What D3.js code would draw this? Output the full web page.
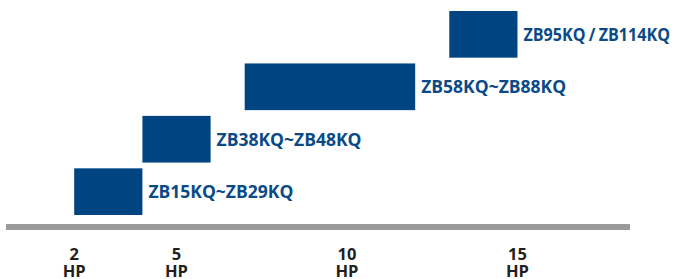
<!DOCTYPE html>
<html>
<head>
<meta charset="utf-8">
<script src="https://cdn.jsdelivr.net/npm/d3@7"></script>
<style>
    body { margin: 0; background: #fff; }
    svg { display: block; }
</style>
</head>
<body>
<svg id="chart"></svg>
<script>
// series, top row first
var models = ["ZB95KQ / ZB114KQ", "ZB58KQ~ZB88KQ", "ZB38KQ~ZB48KQ", "ZB15KQ~ZB29KQ"];
var hpStart = [13, 7, 4, 2];
var hpEnd = [15, 12, 6, 4];
var tickValues = [2, 5, 10, 15];
var tickUnit = "HP";

var width = 673, height = 279;
var barColor = "#004581";
var labelColor = "#0b4a86";

var svg = d3.select("#chart")
    .attr("width", width)
    .attr("height", height);

var x = d3.scaleLinear()
    .domain([0, 18.3])
    .range([6, 630]);

var y = d3.scaleBand()
    .domain(models)
    .range([11, 215])
    .paddingInner(0.11);

var rows = models.map(function(m, i) {
    return { model: m, start: hpStart[i], end: hpEnd[i] };
});

// bars
svg.selectAll("rect.bar")
    .data(rows)
    .enter()
    .append("rect")
    .attr("class", "bar")
    .attr("x", function(d) { return x(d.start); })
    .attr("y", function(d) { return y(d.model); })
    .attr("width", function(d) { return x(d.end) - x(d.start); })
    .attr("height", y.bandwidth())
    .attr("fill", barColor);

// labels
svg.selectAll("text.label")
    .data(rows)
    .enter()
    .append("text")
    .attr("class", "label")
    .attr("x", function(d) { return x(d.end) + 6; })
    .attr("y", function(d) { return y(d.model) + y.bandwidth() / 2; })
    .attr("dy", "0.36em")
    .style("font-family", "'Open Sans', sans-serif")
    .style("font-weight", "bold")
    .style("font-size", "17.5px")
    .style("word-spacing", "-1px")
    .style("fill", labelColor)
    .text(function(d) { return d.model; })
    .each(function() {
        // squeeze a label that would run off the right edge
        var room = width - 3 - (+this.getAttribute("x"));
        if (this.getComputedTextLength() > room) {
            d3.select(this)
                .attr("textLength", room)
                .attr("lengthAdjust", "spacingAndGlyphs");
        }
    });

// axis baseline
svg.append("line")
    .attr("x1", x.range()[0])
    .attr("x2", x.range()[1])
    .attr("y1", 227)
    .attr("y2", 227)
    .style("stroke", "#999a9c")
    .style("stroke-width", 6);

// tick labels: number over unit
var ticks = svg.selectAll("g.tick")
    .data(tickValues)
    .enter()
    .append("g")
    .attr("class", "tick")
    .attr("transform", function(d) { return "translate(" + x(d) + ",0)"; })
    .style("font-family", "'Open Sans', sans-serif")
    .style("font-weight", "bold")
    .style("font-size", "16.5px")
    .style("fill", "#231f20")
    .attr("text-anchor", "middle");

ticks.append("text")
    .attr("y", 260)
    .text(function(d) { return d; });

ticks.append("text")
    .attr("y", 277)
    .text(tickUnit);
</script>
</body>
</html>
